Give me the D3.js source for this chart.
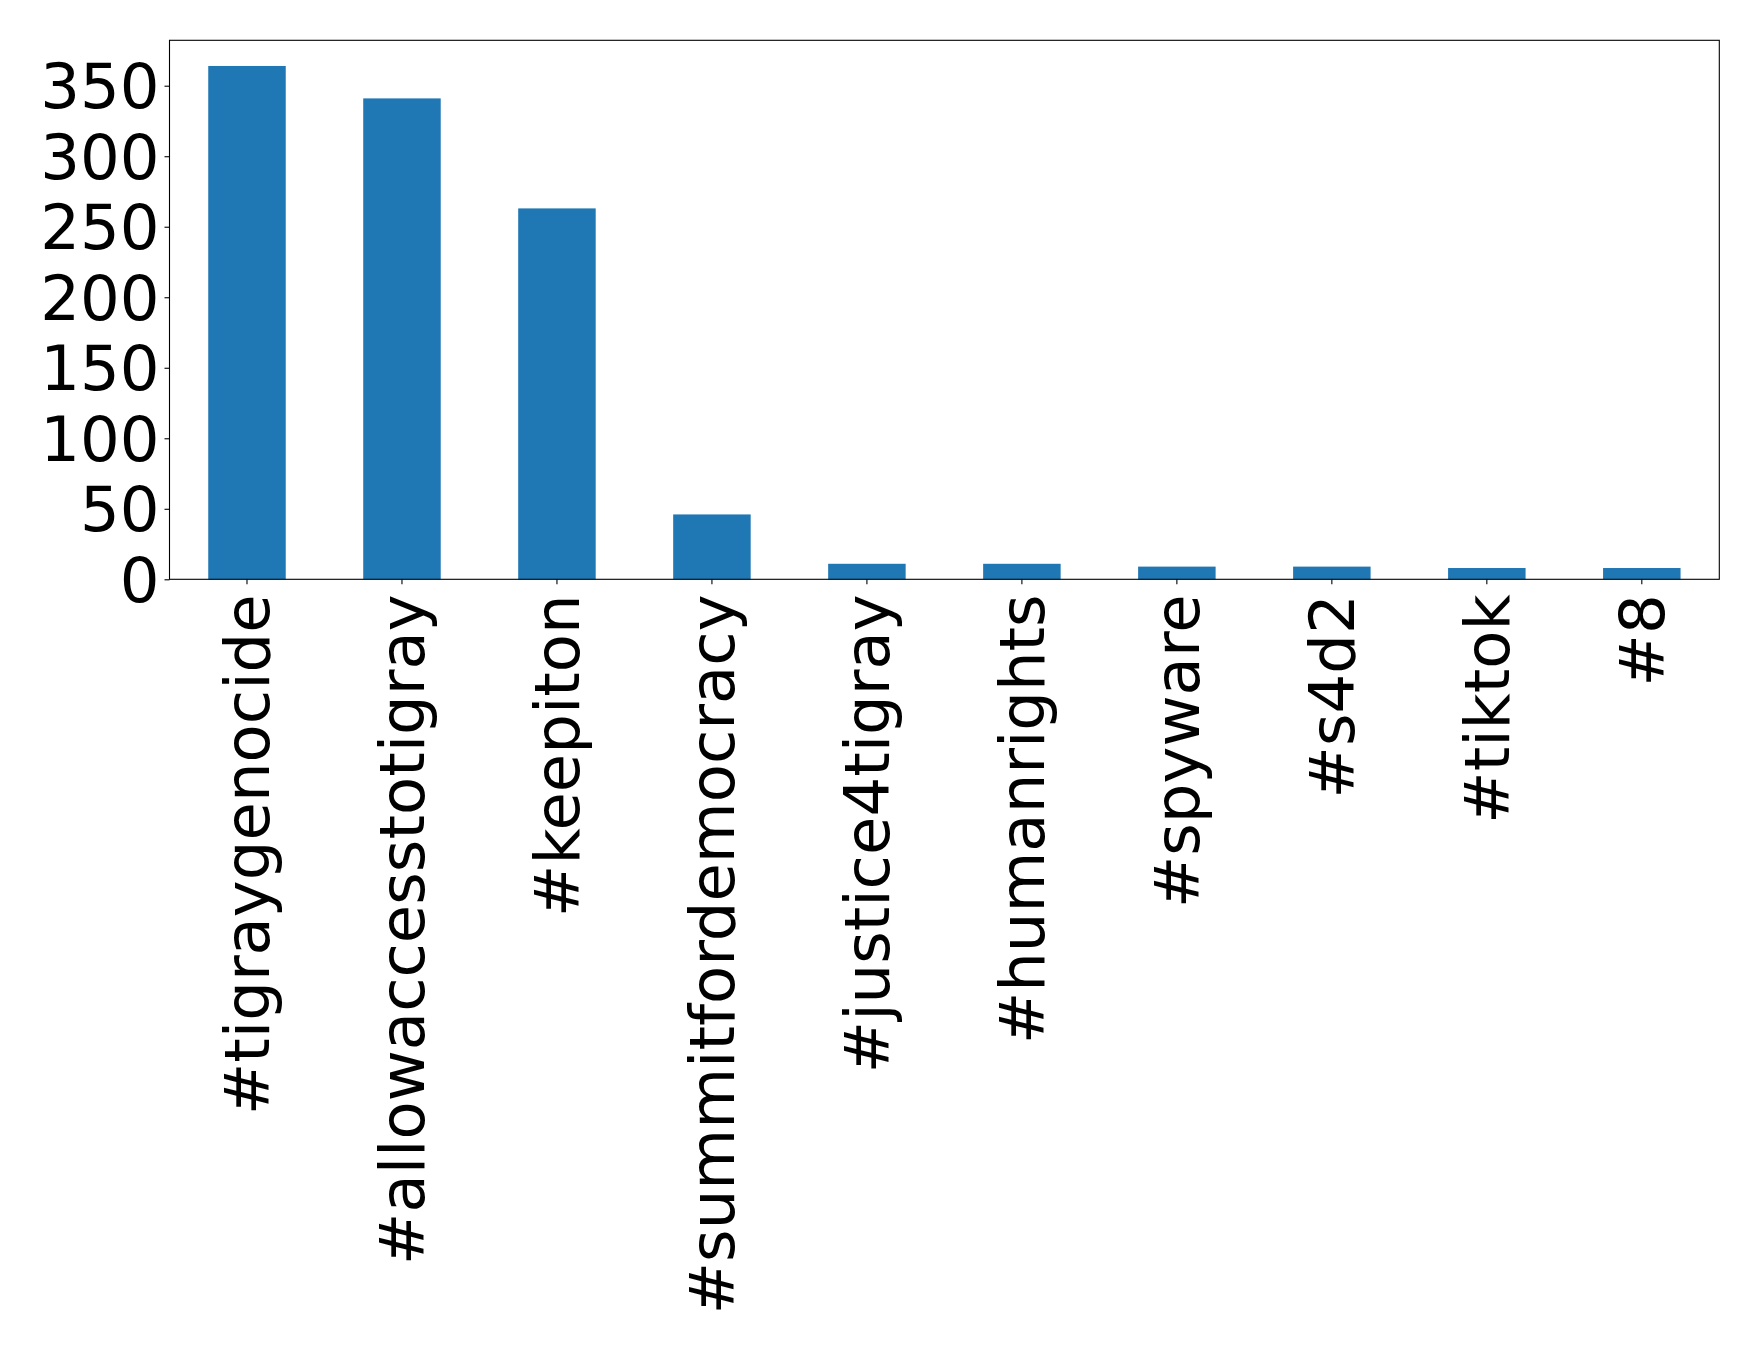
<!DOCTYPE html>
<html>
<head>
<meta charset="utf-8">
<script src="https://cdn.jsdelivr.net/npm/d3@7"></script>
<style>
  html, body { margin: 0; padding: 0; background: #fff; }
  svg { display: block; }
</style>
</head>
<body>
<svg id="chart" width="1759" height="1348"></svg>
<script>
const categories = ["#tigraygenocide", "#allowaccesstotigray", "#keepiton", "#summitfordemocracy", "#justice4tigray", "#humanrights", "#spyware", "#s4d2", "#tiktok", "#8"];
const values = [364, 341, 263, 46, 11, 11, 9, 9, 8, 8];
const yTicks = [0, 50, 100, 150, 200, 250, 300, 350];

const W = 1759, H = 1348;
const margin = { left: 169.5, right: W - 1719.3, top: 40.3, bottom: H - 579.3 };
const svg = d3.select("#chart");
const fontFamily = "'DejaVu Sans', sans-serif";
const fontSize = 62.5;

const x = d3.scaleBand()
  .domain(categories)
  .range([margin.left, W - margin.right])
  .paddingInner(0.5)
  .paddingOuter(0.25);

const yMax = d3.max(values) * 1.05;
const y = d3.scaleLinear().domain([0, yMax]).range([H - margin.bottom, margin.top]);

svg.append("g")
  .selectAll("rect")
  .data(values)
  .join("rect")
  .attr("x", (d, i) => x(categories[i]))
  .attr("width", x.bandwidth())
  .attr("y", d => y(d))
  .attr("height", d => y(0) - y(d))
  .attr("fill", "#1f77b4");

// Y axis
const yAxis = d3.axisLeft(y).tickValues(yTicks).tickSize(5).tickPadding(5);
const gy = svg.append("g").attr("transform", `translate(${margin.left},0)`).call(yAxis);
gy.select(".domain").remove();
gy.selectAll(".tick line").attr("stroke", "#000").attr("stroke-width", 1.1);
gy.selectAll(".tick text")
  .attr("font-family", fontFamily)
  .attr("font-size", fontSize)
  .attr("fill", "#000")
  .attr("dy", "0.35em");

// X axis
const xAxis = d3.axisBottom(x).tickSize(5).tickSizeOuter(0);
const gx = svg.append("g").attr("transform", `translate(0,${H - margin.bottom})`).call(xAxis);
gx.select(".domain").remove();
gx.selectAll(".tick line").attr("stroke", "#000").attr("stroke-width", 1.1);
gx.selectAll(".tick text")
  .attr("font-family", fontFamily)
  .attr("font-size", fontSize)
  .attr("fill", "#000")
  .attr("text-anchor", "end")
  .attr("x", 0)
  .attr("y", 0)
  .attr("dy", "0.35em")
  .attr("transform", "translate(0,15) rotate(-90)");

// Frame
svg.append("rect")
  .attr("x", margin.left)
  .attr("y", margin.top)
  .attr("width", W - margin.left - margin.right)
  .attr("height", H - margin.top - margin.bottom)
  .attr("fill", "none")
  .attr("stroke", "#000")
  .attr("stroke-width", 1.1);
</script>
</body>
</html>
